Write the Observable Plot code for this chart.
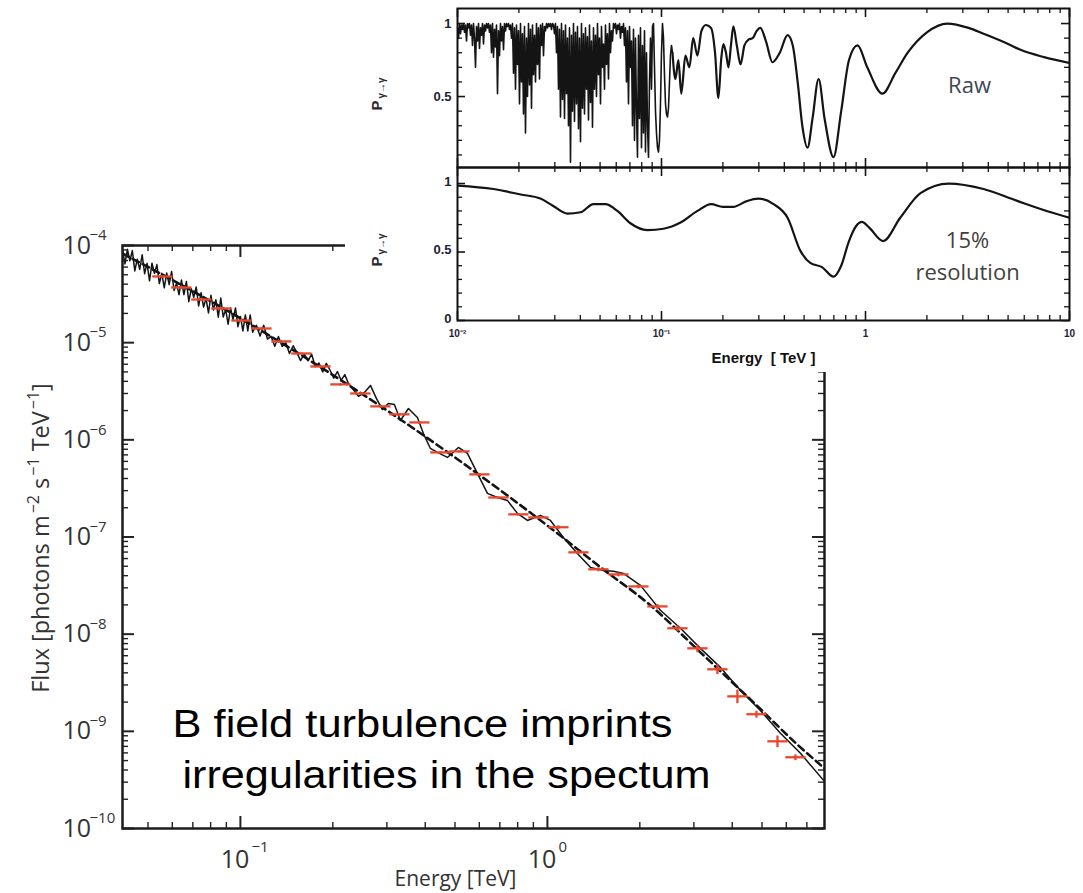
<!DOCTYPE html>
<html>
<head>
<meta charset="utf-8">
<script src="https://cdn.jsdelivr.net/npm/d3@7"></script>
<script src="https://cdn.jsdelivr.net/npm/@observablehq/plot@0.6"></script>
<style>
  html, body { margin: 0; padding: 0; background: #fff; }
  #wrap { position: relative; width: 1083px; height: 893px; overflow: hidden; background: #fff; }
  #main { position: absolute; left: 0; top: 0; }
  #inset { position: absolute; left: 345px; top: 0; width: 738px; height: 372px; background: #fff; }
  #insetTop { position: absolute; left: 0; top: 0; }
  #insetBottom { position: absolute; left: 0; top: 164px; }
  svg { display: block; }
</style>
</head>
<body>
<div id="wrap">
  <div id="main"></div>
  <div id="inset"><div id="insetTop"></div><div id="insetBottom"></div></div>
</div>
<script>
// ======================= DATA =======================
// Binned flux points (red crosses)
const binEnergy = [0.0557, 0.0642, 0.0746, 0.0867, 0.1008, 0.1171, 0.1360, 0.1580, 0.1823, 0.2117,
  0.2459, 0.2858, 0.3296, 0.3829, 0.4481, 0.5168, 0.6005, 0.6924, 0.8043, 0.9347,
  1.086, 1.262, 1.466, 1.703, 1.979, 2.282, 2.652, 3.081, 3.579, 4.158, 4.796, 5.615, 6.425];
const binFlux = [4.80e-5, 3.70e-5, 2.78e-5, 2.25e-5, 1.69e-5, 1.40e-5, 1.03e-5, 7.74e-6, 5.69e-6, 3.72e-6,
  3.00e-6, 2.21e-6, 1.83e-6, 1.51e-6, 7.42e-7, 7.60e-7, 4.41e-7, 2.55e-7, 1.71e-7, 1.59e-7,
  1.26e-7, 6.95e-8, 4.65e-8, 4.12e-8, 3.10e-8, 1.93e-8, 1.15e-8, 7.15e-9, 4.35e-9, 2.29e-9, 1.50e-9, 7.89e-10, 5.41e-10];
const binFluxErrDex = [0.012, 0.012, 0.012, 0.012, 0.012, 0.012, 0.012, 0.012, 0.012, 0.012,
  0.012, 0.012, 0.012, 0.012, 0.012, 0.012, 0.012, 0.012, 0.012, 0.012,
  0.02, 0.02, 0.02, 0.02, 0.02, 0.025, 0.03, 0.04, 0.05, 0.07, 0.035, 0.06, 0.03];
const binHalfWidthDex = 0.033;

// Smooth model spectrum (dashed)
const modelPoints = [[0.04126, 8.27e-5], [0.05089, 5.84e-5], [0.07408, 3.06e-5], [0.1078, 1.55e-5],
  [0.1568, 7.54e-6], [0.2282, 3.55e-6], [0.3320, 1.62e-6], [0.4831, 7.11e-7], [0.7029, 3.02e-7],
  [1.0228, 1.24e-7], [1.488, 4.89e-8], [2.165, 1.98e-8], [3.150, 6.50e-9], [4.584, 2.13e-9],
  [6.671, 6.84e-10], [7.987, 4.16e-10]];

// Spectrum with turbulent B field (thin solid line)
const spectrumPoints = [
  [0.04130, 9.12e-5], [0.04207, 6.47e-5], [0.04285, 9.15e-5], [0.04365, 6.95e-5], [0.04446, 8.86e-5],
  [0.04529, 5.47e-5], [0.04613, 7.22e-5], [0.04699, 5.68e-5], [0.04786, 8.03e-5], [0.04875, 5.13e-5],
  [0.04966, 6.55e-5], [0.05058, 4.33e-5], [0.05152, 6.57e-5], [0.05248, 5.16e-5], [0.05346, 6.36e-5],
  [0.05445, 4.06e-5], [0.05546, 5.18e-5], [0.05649, 3.67e-5], [0.05754, 5.20e-5], [0.05861, 3.95e-5],
  [0.05970, 5.40e-5], [0.06081, 3.45e-5], [0.06194, 4.10e-5], [0.06310, 3.12e-5], [0.06427, 4.41e-5],
  [0.06546, 3.13e-5], [0.06668, 4.27e-5], [0.06792, 2.64e-5], [0.06918, 3.60e-5], [0.07047, 2.93e-5],
  [0.07178, 3.74e-5], [0.07311, 2.39e-5], [0.07447, 3.27e-5], [0.07586, 2.32e-5], [0.07727, 2.85e-5],
  [0.07870, 2.02e-5], [0.08017, 3.07e-5], [0.08166, 2.17e-5], [0.08318, 2.77e-5], [0.08472, 1.83e-5],
  [0.08630, 2.88e-5], [0.08790, 1.84e-5], [0.08954, 2.19e-5], [0.09120, 1.55e-5], [0.09290, 2.27e-5],
  [0.09462, 1.73e-5], [0.09638, 2.28e-5], [0.09817, 1.46e-5], [0.1000, 1.86e-5], [0.1019, 1.32e-5],
  [0.1038, 1.93e-5], [0.1057, 1.32e-5], [0.1076, 1.93e-5], [0.1096, 1.28e-5],
  [0.1127, 1.51e-5], [0.1159, 1.17e-5], [0.1191, 1.51e-5], [0.1225, 1.09e-5], [0.1259, 1.16e-5],
  [0.1294, 9.20e-6], [0.1330, 1.16e-5], [0.1368, 9.15e-6], [0.1406, 1.00e-5], [0.1445, 7.75e-6],
  [0.1486, 9.29e-6], [0.1528, 7.89e-6], [0.1570, 6.54e-6], [0.1614, 7.66e-6], [0.1660, 6.51e-6],
  [0.1706, 7.62e-6], [0.1754, 5.64e-6], [0.1803, 6.16e-6], [0.1854, 4.99e-6], [0.1905, 6.13e-6],
  [0.1959, 5.20e-6], [0.2014, 4.31e-6], [0.2070, 5.05e-6], [0.2128, 4.10e-6], [0.2188, 4.69e-6],
  [0.2249, 3.80e-6],
  [0.2317, 3.38e-6], [0.2424, 2.80e-6], [0.2535, 3.07e-6], [0.2652, 3.63e-6], [0.2773, 2.67e-6],
  [0.2901, 2.05e-6], [0.3034, 2.37e-6], [0.3174, 2.31e-6], [0.3320, 1.58e-6], [0.3526, 2.10e-6],
  [0.3772, 1.70e-6], [0.3946, 1.16e-6], [0.4158, 8.15e-7], [0.4383, 7.42e-7], [0.4724, 6.59e-7],
  [0.5130, 8.35e-7], [0.5488, 7.25e-7], [0.5916, 4.51e-7], [0.6377, 2.81e-7], [0.6873, 2.55e-7],
  [0.7409, 2.38e-7], [0.7985, 1.75e-7], [0.8609, 1.48e-7], [0.9489, 1.67e-7], [1.023, 1.48e-7],
  [1.127, 9.91e-8], [1.252, 6.78e-8], [1.380, 4.87e-8], [1.522, 4.53e-8], [1.641, 4.43e-8],
  [1.768, 4.22e-8], [2.009, 3.18e-8], [2.334, 1.76e-8], [2.712, 1.15e-8], [3.150, 7.14e-9],
  [3.660, 4.55e-9], [4.253, 2.64e-9], [4.941, 1.64e-9], [5.741, 9.54e-10], [6.671, 5.94e-10],
  [7.987, 3.06e-10]];

// Inset, raw photon survival probability: densely sampled noisy part (0.01 to 0.1132 TeV, log-uniform)
const rawNoisyEnergyRange = [0.01, 0.1132];
const rawNoisyP = [
  0.97,0.90,1.00,0.93,0.99,0.96,1.00,0.94,0.99,0.88,
  1.00,0.97,1.00,0.92,0.99,0.85,1.00,0.90,0.70,0.98,
  0.88,1.00,0.83,0.97,0.92,1.00,0.86,0.99,0.95,1.00,
  0.97,1.00,0.94,0.99,0.80,1.00,0.77,0.96,0.84,0.99,
  0.52,0.95,0.78,1.00,0.88,0.98,0.82,1.00,0.95,1.00,
  0.98,1.00,0.96,0.99,0.90,1.00,0.66,0.97,0.55,0.99,
  0.72,0.95,0.45,1.00,0.60,0.93,0.38,0.98,0.25,0.90,
  0.50,1.00,0.58,0.96,0.42,0.99,0.65,0.92,0.60,1.00,
  0.72,0.97,0.62,0.99,0.85,1.00,0.78,0.98,0.95,1.00,
  0.97,1.00,0.98,1.00,0.96,1.00,0.99,0.93,1.00,0.80,
  0.98,0.55,0.96,0.36,1.00,0.48,0.95,0.35,0.99,0.52,
  0.90,0.30,0.97,0.05,0.92,0.40,1.00,0.33,0.94,0.45,
  0.98,0.28,0.90,0.19,1.00,0.42,0.93,0.38,0.97,0.55,
  0.91,0.34,0.99,0.46,0.88,0.29,0.97,0.55,0.92,0.50,
  1.00,0.65,0.90,0.45,0.98,0.70,0.86,0.55,0.99,0.72,
  0.93,0.62,1.00,0.80,0.95,0.88,1.00,0.97,1.00,0.93,
  0.99,0.96,1.00,0.90,0.98,0.94,1.00,0.85,0.97,0.60,
  0.95,0.45,0.98,0.70,0.88,0.30,0.96,0.20,0.90,0.40,
  0.085,0.92,0.35,0.97,0.15,0.85,0.25,0.95,0.12,0.80,
  0.30,0.085,0.60,0.90,0.55,0.98,1.00,0.70,0.40,0.25,
  0.15,0.12,0.20,0.45,0.80,1.00,0.90,0.65,0.45,0.38,
  0.36,0.42,0.60,0.78,0.85,0.80];
// Inset, raw: smoother part above ~0.11 TeV
const rawSmoothPoints = [[0.1132, 0.80], [0.117, 0.62], [0.121, 0.75], [0.125, 0.52], [0.131, 0.78],
  [0.137, 0.70], [0.143, 0.90], [0.150, 0.78], [0.157, 0.95], [0.165, 0.99], [0.175, 0.97],
  [0.183, 0.80], [0.190, 0.49], [0.196, 0.75], [0.201, 0.86], [0.207, 0.80], [0.213, 0.70],
  [0.219, 0.85], [0.225, 0.98], [0.234, 0.85], [0.244, 0.72], [0.255, 0.85], [0.267, 0.89],
  [0.280, 0.90], [0.293, 0.95], [0.305, 0.97], [0.325, 0.88], [0.350, 0.735], [0.38, 0.80],
  [0.415, 0.92], [0.44, 0.85], [0.465, 0.60], [0.49, 0.30], [0.520, 0.15], [0.55, 0.35],
  [0.589, 0.62], [0.63, 0.35], [0.697, 0.085], [0.76, 0.40], [0.83, 0.75], [0.914, 0.85],
  [1.02, 0.70], [1.21, 0.52], [1.40, 0.66], [1.61, 0.80], [2.0, 0.94], [2.52, 1.0], [3.2, 0.97],
  [3.79, 0.93], [5.0, 0.86], [5.75, 0.82], [7.5, 0.77], [10, 0.73]];
// Inset, 15% energy resolution
const smearedPoints = [[0.01, 0.985], [0.0150, 0.96], [0.0204, 0.92], [0.0255, 0.89], [0.0292, 0.84],
  [0.0346, 0.78], [0.0401, 0.79], [0.0464, 0.85], [0.0531, 0.85], [0.0608, 0.80], [0.0704, 0.71],
  [0.0853, 0.66], [0.1023, 0.67], [0.124, 0.715], [0.150, 0.80], [0.175, 0.85], [0.200, 0.83],
  [0.225, 0.83], [0.260, 0.87], [0.298, 0.89], [0.354, 0.85], [0.415, 0.75], [0.479, 0.51],
  [0.536, 0.42], [0.612, 0.39], [0.697, 0.32], [0.76, 0.40], [0.83, 0.58], [0.90, 0.69],
  [0.96, 0.72], [1.04, 0.68], [1.22, 0.58], [1.48, 0.75], [1.86, 0.93], [2.56, 1.0], [3.79, 0.96],
  [5.5, 0.875], [8.1, 0.79], [10, 0.75]];

// Ticks and labels
const mainEnergyTicks = [0.1, 1];
const mainEnergyExponents = ["\u22121", "0"];
const mainFluxTicks = [1e-10, 1e-9, 1e-8, 1e-7, 1e-6, 1e-5, 1e-4];
const mainFluxExponents = ["\u221210", "\u22129", "\u22128", "\u22127", "\u22126", "\u22125", "\u22124"];
const insetEnergyTicks = [0.01, 0.1, 1, 10];
const insetEnergyTickLabels = ["10\u207B\u00B2", "10\u207B\u00B9", "1", "10"];
const insetPTicksTop = [0.5, 1];
const insetPTicksTopLabels = ["0.5", "1"];
const insetPTicksBottom = [0, 0.5, 1];
const insetPTicksBottomLabels = ["0", "0.5", "1"];
const insetPMinorTicks = [0.1, 0.2, 0.3, 0.4, 0.6, 0.7, 0.8, 0.9];
const annotationLines = ["B field turbulence imprints", "irregularities in the spectum"];

// ======================= BUILD =======================
function logMinors(lo, hi) {
  const out = [];
  for (let e = Math.floor(Math.log10(lo)); e <= Math.ceil(Math.log10(hi)); e++)
    for (let m = 2; m <= 9; m++) { const v = m * 10 ** e; if (v > lo && v < hi) out.push(v); }
  return out;
}
const bins = binEnergy.map((E, i) => ({E, F: binFlux[i], err: binFluxErrDex[i]}));
const model = modelPoints.map(([E, F]) => ({E, F}));
const spectrum = spectrumPoints.map(([E, F]) => ({E, F}));
const [r0, r1] = rawNoisyEnergyRange.map(Math.log10);
const rawNoisy = rawNoisyP.map((P, i) => ({E: 10 ** (r0 + (r1 - r0) * i / (rawNoisyP.length - 1)), P}));
const rawSmooth = rawSmoothPoints.map(([E, P]) => ({E, P}));
const smeared = smearedPoints.map(([E, P]) => ({E, P}));

const W = 1083, H = 893;
const mL = 122, mR = 824, mT = 245, mB = 828;
const FW = mR - mL, FH = mB - mT;
const xDomain = [0.0413, 7.99], yDomain = [1e-10, 1e-4];
const red = "#e8472d", ink = "#141414", tickInk = "#222", labelInk = "#333";
const mainFont = "'Open Sans', 'DejaVu Sans', sans-serif";
const helv = "'Liberation Sans', Arial, sans-serif";
const fluxMinor = logMinors(...yDomain), energyMinor = logMinors(...xDomain);

const mainPlot = Plot.plot({
  width: W, height: H,
  marginLeft: mL, marginRight: W - mR, marginTop: mT, marginBottom: H - mB,
  x: {type: "log", domain: xDomain, axis: null},
  y: {type: "log", domain: yDomain, axis: null},
  style: {background: "transparent", maxWidth: "none", overflow: "visible", fontFamily: mainFont},
  marks: [
    Plot.line(spectrum, {x: "E", y: "F", stroke: ink, strokeWidth: 1.5, clip: true}),
    Plot.line(model, {x: "E", y: "F", curve: "monotone-x", stroke: ink, strokeWidth: 2.6, strokeDasharray: "7,4.5", clip: true}),
    Plot.link(bins, {x1: d => d.E / 10 ** binHalfWidthDex, x2: d => d.E * 10 ** binHalfWidthDex, y1: "F", y2: "F", stroke: red, strokeWidth: 2.3}),
    Plot.link(bins, {x1: "E", x2: "E", y1: d => d.F / 10 ** d.err, y2: d => d.F * 10 ** d.err, stroke: red, strokeWidth: 2.3}),
    Plot.tickY(mainFluxTicks, {y: d => d, insetRight: FW - 12, stroke: tickInk, strokeWidth: 2}),
    Plot.tickY(fluxMinor, {y: d => d, insetRight: FW - 6, stroke: tickInk, strokeWidth: 1.4}),
    Plot.tickY(mainFluxTicks, {y: d => d, insetLeft: FW - 12, stroke: tickInk, strokeWidth: 2}),
    Plot.tickY(fluxMinor, {y: d => d, insetLeft: FW - 6, stroke: tickInk, strokeWidth: 1.4}),
    Plot.tickX(mainEnergyTicks, {x: d => d, insetTop: FH - 12, stroke: tickInk, strokeWidth: 2}),
    Plot.tickX(energyMinor, {x: d => d, insetTop: FH - 6, stroke: tickInk, strokeWidth: 1.4}),
    Plot.tickX(mainEnergyTicks, {x: d => d, insetBottom: FH - 12, stroke: tickInk, strokeWidth: 2}),
    Plot.tickX(energyMinor, {x: d => d, insetBottom: FH - 6, stroke: tickInk, strokeWidth: 1.4}),
    Plot.frame({stroke: "#1c1c1c", strokeWidth: 2.5}),
    Plot.text(mainFluxTicks, {y: d => d, frameAnchor: "left", text: () => "10", dx: -60, textAnchor: "start", lineAnchor: "middle", fontSize: 25, fill: labelInk}),
    Plot.text(mainFluxTicks, {y: d => d, frameAnchor: "left", text: (d, i) => mainFluxExponents[i], dx: -33, dy: -10, textAnchor: "start", lineAnchor: "middle", fontSize: 15, fill: labelInk}),
    Plot.text(mainEnergyTicks, {x: d => d, frameAnchor: "bottom", text: () => "10", dx: 9, dy: 31, textAnchor: "end", lineAnchor: "middle", fontSize: 25, fill: labelInk}),
    Plot.text(mainEnergyTicks, {x: d => d, frameAnchor: "bottom", text: (d, i) => mainEnergyExponents[i], dx: 11, dy: 19, textAnchor: "start", lineAnchor: "middle", fontSize: 15, fill: labelInk}),
    Plot.text(["Energy [TeV]"], {frameAnchor: "bottom", text: d => d, dx: -18, dy: 51, textAnchor: "middle", lineAnchor: "middle", fontSize: 21, fill: labelInk}),
    Plot.text([annotationLines[0]], {frameAnchor: "bottom-left", text: d => d, dx: 50, dy: -104, textAnchor: "start", lineAnchor: "middle", fontSize: 38, fontFamily: helv, fill: "#000"}),
    Plot.text([annotationLines[1]], {frameAnchor: "bottom-left", text: d => d, dx: 60, dy: -53, textAnchor: "start", lineAnchor: "middle", fontSize: 38, fontFamily: helv, fill: "#000"})
  ]
});
document.getElementById("main").appendChild(mainPlot);
const ms = d3.select(mainPlot);
ms.selectAll("text").filter(function () { return this.textContent === annotationLines[0]; })
  .attr("textLength", 500).attr("lengthAdjust", "spacingAndGlyphs");
ms.selectAll("text").filter(function () { return this.textContent === annotationLines[1]; })
  .attr("textLength", 528).attr("lengthAdjust", "spacingAndGlyphs");
// rotated y label with superscripts
const ylab = ms.append("text").attr("transform", "translate(49,538) rotate(-90)")
  .attr("text-anchor", "middle").attr("font-family", mainFont).attr("font-size", 23.5).attr("fill", labelInk);
[["Flux [photons m", 0], ["\u22122", -1], [" s", 1], ["\u22121", -1], [" TeV", 1], ["\u22121", -1], ["]", 1]]
  .forEach(([t, s]) => {
    const ts = ylab.append("tspan").text(t);
    if (s === -1) ts.attr("dy", -10).attr("font-size", 16).attr("dx", 2);
    if (s === 1) ts.attr("dy", 10);
  });

// ---------- Inset ----------
const IW = 738, IL = 112, IR = 14;
const IFW = IW - IL - IR;
const insetInk = "#1d2233";
function insetTicks(fh, pMajor) {
  return [
    Plot.tickY(pMajor, {y: d => d, insetRight: IFW - 8, stroke: ink, strokeWidth: 1.6}),
    Plot.tickY(insetPMinorTicks, {y: d => d, insetRight: IFW - 5, stroke: ink, strokeWidth: 1.3}),
    Plot.tickY(pMajor, {y: d => d, insetLeft: IFW - 8, stroke: ink, strokeWidth: 1.6}),
    Plot.tickY(insetPMinorTicks, {y: d => d, insetLeft: IFW - 5, stroke: ink, strokeWidth: 1.3}),
    Plot.tickX(insetEnergyTicks, {x: d => d, insetTop: fh - 9, stroke: ink, strokeWidth: 1.6}),
    Plot.tickX(logMinors(0.01, 10), {x: d => d, insetTop: fh - 5, stroke: ink, strokeWidth: 1.3}),
    Plot.tickX(insetEnergyTicks, {x: d => d, insetBottom: fh - 9, stroke: ink, strokeWidth: 1.6}),
    Plot.tickX(logMinors(0.01, 10), {x: d => d, insetBottom: fh - 5, stroke: ink, strokeWidth: 1.3}),
    Plot.frame({stroke: "#111", strokeWidth: 2})
  ];
}
function addPLabel(svgEl, x, y) {
  const t = d3.select(svgEl).append("text").attr("transform", `translate(${x},${y}) rotate(-90)`)
    .attr("font-family", helv).attr("font-weight", "bold").attr("fill", "#2b2630");
  t.append("tspan").attr("font-size", 15).text("P");
  t.append("tspan").attr("font-size", 10).attr("dy", 3).attr("dx", 2).text("\u03B3\u2192\u03B3");
}
const topPlot = Plot.plot({
  width: IW, height: 170, marginLeft: IL, marginRight: IR, marginTop: 8, marginBottom: 3,
  x: {type: "log", domain: [0.01, 10], axis: null},
  y: {domain: [0.014, 1.103], axis: null},
  style: {background: "transparent", maxWidth: "none", overflow: "visible", fontFamily: helv},
  marks: [
    Plot.line(rawNoisy, {x: "E", y: "P", stroke: ink, strokeWidth: 1.6, clip: true}),
    Plot.line(rawSmooth, {x: "E", y: "P", curve: "monotone-x", stroke: ink, strokeWidth: 2.2, clip: true}),
    ...insetTicks(159, insetPTicksTop),
    Plot.text(insetPTicksTop, {y: d => d, frameAnchor: "left", text: (d, i) => insetPTicksTopLabels[i], dx: -6, textAnchor: "end", lineAnchor: "middle", fontSize: 13, fontWeight: "bold", fill: insetInk}),
    Plot.text(["Raw"], {frameAnchor: "top-right", text: d => d, dx: -100, dy: 77, textAnchor: "middle", lineAnchor: "middle", fontSize: 22, fill: "#404652", fontFamily: mainFont})
  ]
});
document.getElementById("insetTop").appendChild(topPlot);
addPLabel(topPlot, 37, 94);

const bottomPlot = Plot.plot({
  width: IW, height: 208, marginLeft: IL, marginRight: IR, marginTop: 3, marginBottom: 52,
  x: {type: "log", domain: [0.01, 10], axis: null},
  y: {domain: [0, 1.117], axis: null},
  style: {background: "transparent", maxWidth: "none", overflow: "visible", fontFamily: helv},
  marks: [
    Plot.line(smeared, {x: "E", y: "P", curve: "monotone-x", stroke: ink, strokeWidth: 2.2, clip: true}),
    ...insetTicks(153, insetPTicksBottom),
    Plot.text(insetPTicksBottom, {y: d => d, frameAnchor: "left", text: (d, i) => insetPTicksBottomLabels[i], dx: -6, dy: -2, textAnchor: "end", lineAnchor: "middle", fontSize: 13, fontWeight: "bold", fill: insetInk}),
    Plot.text(insetEnergyTicks, {x: d => d, frameAnchor: "bottom", text: (d, i) => insetEnergyTickLabels[i], dy: 13, textAnchor: "middle", lineAnchor: "middle", fontSize: 10, fontWeight: "bold", fill: insetInk}),
    Plot.text(["Energy  [ TeV ]"], {frameAnchor: "bottom", text: d => d, dy: 38, textAnchor: "middle", lineAnchor: "middle", fontSize: 15, fontWeight: "bold", fill: "#111"}),
    Plot.text(["15%"], {frameAnchor: "top-right", text: d => d, dx: -102, dy: 73, textAnchor: "middle", lineAnchor: "middle", fontSize: 22, fill: "#453f3a", fontFamily: mainFont}),
    Plot.text(["resolution"], {frameAnchor: "top-right", text: d => d, dx: -102, dy: 105, textAnchor: "middle", lineAnchor: "middle", fontSize: 22, fill: "#453f3a", fontFamily: mainFont})
  ]
});
document.getElementById("insetBottom").appendChild(bottomPlot);
addPLabel(bottomPlot, 37, 86);
</script>
</body>
</html>
